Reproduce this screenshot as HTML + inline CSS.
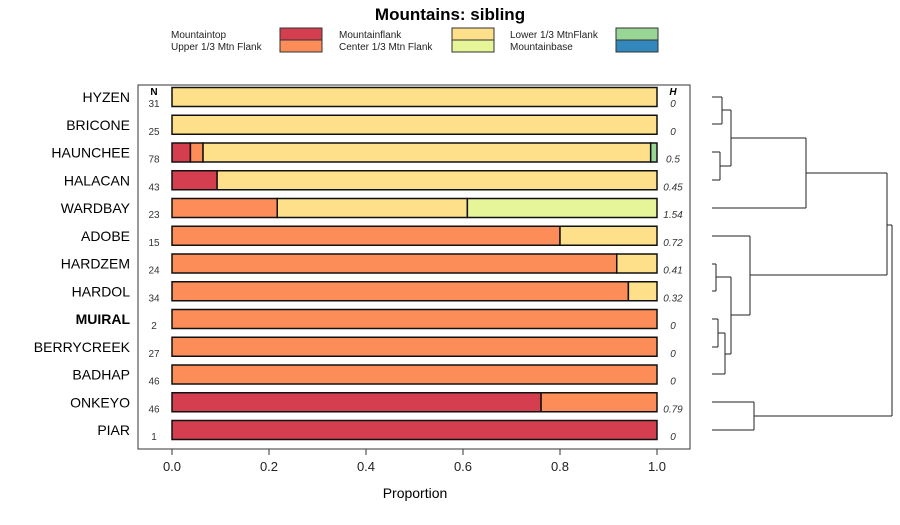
<!DOCTYPE html>
<html><head><meta charset="utf-8"><style>
body{margin:0;background:#fff}
svg{font-family:"Liberation Sans",sans-serif}
</style></head><body>
<svg id="c" width="900" height="520" xmlns="http://www.w3.org/2000/svg">
<rect width="900" height="520" fill="#fff"/>
<text x="450" y="20" text-anchor="middle" font-size="17" font-weight="bold">Mountains: sibling</text>
<g id="legend"></g>
<rect x="138" y="85" width="552" height="364" fill="none" stroke="#333"/>
<g id="bars"></g>
<g id="dendro" stroke="#222" fill="none" stroke-width="1"></g>
<text x="415" y="498" text-anchor="middle" font-size="14">Proportion</text>
<text x="154" y="95" text-anchor="middle" font-size="10" font-weight="bold">N</text>
<text x="673" y="95" text-anchor="middle" font-size="10" font-weight="bold" font-style="italic">H</text>
</svg>
<script>
const categories=["HYZEN","BRICONE","HAUNCHEE","HALACAN","WARDBAY","ADOBE","HARDZEM","HARDOL","MUIRAL","BERRYCREEK","BADHAP","ONKEYO","PIAR"];
const counts=[31,25,78,43,23,15,24,34,2,27,46,46,1];
const hVals=["0","0","0.5","0.45","1.54","0.72","0.41","0.32","0","0","0","0.79","0"];
const seriesNames=["Mountaintop","Upper 1/3 Mtn Flank","Mountainflank","Center 1/3 Mtn Flank","Lower 1/3 MtnFlank","Mountainbase"];
const seriesColors=["#D53E4F","#FC8D59","#FEE08B","#E6F598","#99D594","#3288BD"];
const sTop=[0,0,0.038,0.093,0,0,0,0,0,0,0,0.761,1];
const sUpper=[0,0,0.026,0,0.217,0.8,0.917,0.941,1,1,1,0.239,0];
const sFlank=[1,1,0.923,0.907,0.392,0.2,0.083,0.059,0,0,0,0,0];
const sCenter=[0,0,0,0,0.391,0,0,0,0,0,0,0,0];
const sLower=[0,0,0.013,0,0,0,0,0,0,0,0,0,0];
const sBase=[0,0,0,0,0,0,0,0,0,0,0,0,0];
const xTicks=[0,0.2,0.4,0.6,0.8,1.0];
const NS="http://www.w3.org/2000/svg";
const svg=document.getElementById('c');
const X=v=>172+v*485;
const Y=i=>97+i*27.75;
function mk(t,a,p){const e=document.createElementNS(NS,t);for(const k in a)e.setAttribute(k,a[k]);(p||svg).appendChild(e);return e;}
const series=[sTop,sUpper,sFlank,sCenter,sLower,sBase];
const bars=document.getElementById('bars');
categories.forEach((c,i)=>{
  const lab=mk('text',{x:130,y:Y(i)+5,'text-anchor':'end','font-size':14,'font-weight':c==='MUIRAL'?'bold':'normal'});
  lab.textContent=c;
  
  
  let acc=0;
  series.forEach((s,j)=>{
    if(s[i]<=0)return;
    const r=mk('rect',{x:X(acc),y:Y(i)-9.5,width:X(acc+s[i])-X(acc),height:19,fill:seriesColors[j],stroke:'#111','stroke-width':1.5},bars);
    
    
    acc+=s[i];
  });
  const n=mk('text',{x:154,y:Y(i)+10,'text-anchor':'middle','font-size':10,fill:'#333'});
  n.textContent=counts[i];
  
  
  const h=mk('text',{x:673,y:Y(i)+10,'text-anchor':'middle','font-size':10,'font-style':'italic',fill:'#333'});
  h.textContent=hVals[i];
  
  
});
xTicks.forEach(t=>{
  const l=mk('line',{x1:X(t),x2:X(t),y1:449,y2:455,stroke:'#333'});
  
  
  const tx=mk('text',{x:X(t),y:471,'text-anchor':'middle','font-size':13,fill:'#222'});
  tx.textContent=t.toFixed(1);
  
  
});
const lg=document.getElementById('legend');
const lx=[171,339,510],sx=[280,452,616];
seriesNames.forEach((nm,j)=>{
  const col=Math.floor(j/2),row=j%2;
  const t=mk('text',{x:lx[col],y:38+row*12,'font-size':10,fill:'#222'},lg);
  t.textContent=nm;
  
  
  const r=mk('rect',{x:sx[col],y:28+row*12,width:42,height:12,fill:seriesColors[j],stroke:'#333'},lg);
  
  
});
const d=document.getElementById('dendro');
const segs=[
 [712,97,722,97],[712,124,722,124],[722,97,722,124],
 [712,152,720,152],[712,180,720,180],[720,152,720,180],
 [722,110,731,110],[720,166,731,166],[731,110,731,166],
 [731,138,806,138],[712,208,806,208],[806,138,806,208],
 [712,264,716,264],[712,291,716,291],[716,264,716,291],
 [712,319,718,319],[712,347,718,347],[718,319,718,347],
 [718,333,725,333],[712,374,725,374],[725,333,725,374],
 [716,277,731,277],[725,354,731,354],[731,277,731,354],
 [712,236,750,236],[731,315,750,315],[750,236,750,315],
 [806,173,887,173],[750,275,887,275],[887,173,887,275],
 [712,402,754,402],[712,430,754,430],[754,402,754,430],
 [887,225,892,225],[754,416,892,416],[892,225,892,416]];
segs.forEach(s=>mk('line',{x1:s[0],y1:s[1],x2:s[2],y2:s[3]},d));
</script>
</body></html>
